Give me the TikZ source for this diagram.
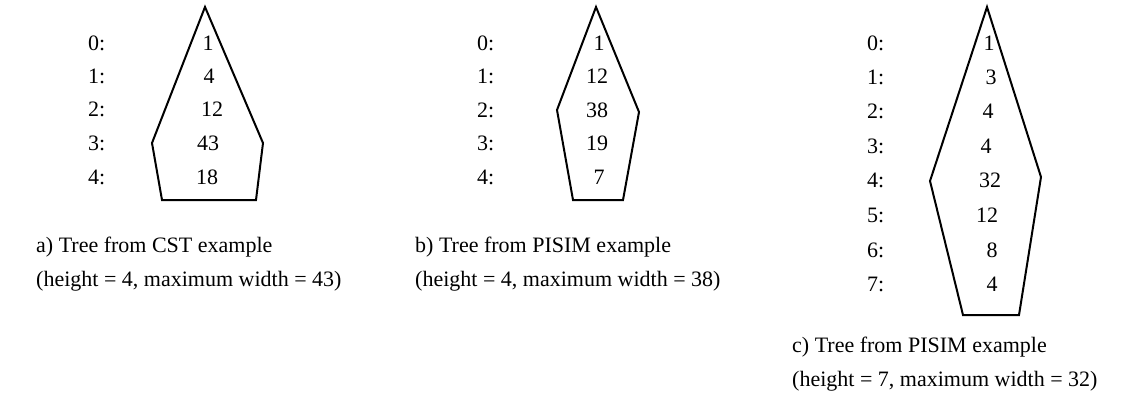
\documentclass[tikz,border=0pt]{standalone}
\usepackage{fontspec}
\setmainfont{Liberation Serif}
\usetikzlibrary{positioning}

\begin{document}
\begin{tikzpicture}[
    x=1pt, y=-1pt,
    font=\fontsize{22}{34}\selectfont,
    lvl/.style={anchor=west, inner sep=0pt},
    cnt/.style={anchor=center, inner sep=0pt},
    outline/.style={draw, line width=2pt, line join=miter},
    caption/.style={anchor=base west, inner sep=0pt}
]
    \useasboundingbox (0,0) rectangle (1121,397);

    % Tree a) CST
    \coordinate (a_top) at (205,7);
    \coordinate (a_left) at (152,143);
    \coordinate (a_right) at (263,143);
    \coordinate (a_bl) at (162,200);
    \coordinate (a_br) at (256,200);
    \draw [outline] (a_top) -- (a_right) -- (a_br) -- (a_bl) -- (a_left) -- cycle;

    \node (a_lvl0) [lvl] at (88,43) {0:};
    \node (a_lvl1) [lvl] at (88,76) {1:};
    \node (a_lvl2) [lvl] at (88,109) {2:};
    \node (a_lvl3) [lvl] at (88,143) {3:};
    \node (a_lvl4) [lvl] at (88,177) {4:};

    \node (a_w0) [cnt] at (208,43) {1};
    \node (a_w1) [cnt] at (209,76) {4};
    \node (a_w2) [cnt] at (212,109) {12};
    \node (a_w3) [cnt] at (208,143) {43};
    \node (a_w4) [cnt] at (207,177) {18};

    \node (a_cap1) [caption] at (36,252) {a) Tree from CST example};
    \node (a_cap2) [caption] at (36,286) {(height = 4, maximum width = 43)};

    % Tree b) PISIM
    \coordinate (b_top) at (596,7);
    \coordinate (b_left) at (557,110);
    \coordinate (b_right) at (639,112);
    \coordinate (b_bl) at (573,200);
    \coordinate (b_br) at (623,200);
    \draw [outline] (b_top) -- (b_right) -- (b_br) -- (b_bl) -- (b_left) -- cycle;

    \node (b_lvl0) [lvl] at (477,43) {0:};
    \node (b_lvl1) [lvl] at (477,76) {1:};
    \node (b_lvl2) [lvl] at (477,110) {2:};
    \node (b_lvl3) [lvl] at (477,143) {3:};
    \node (b_lvl4) [lvl] at (477,177) {4:};

    \node (b_w0) [cnt] at (599,43) {1};
    \node (b_w1) [cnt] at (597,76) {12};
    \node (b_w2) [cnt] at (597,110) {38};
    \node (b_w3) [cnt] at (597,143) {19};
    \node (b_w4) [cnt] at (599,177) {7};

    \node (b_cap1) [caption] at (415,252) {b) Tree from PISIM example};
    \node (b_cap2) [caption] at (415,286) {(height = 4, maximum width = 38)};

    % Tree c) PISIM
    \coordinate (c_top) at (987,7);
    \coordinate (c_left) at (930,181);
    \coordinate (c_right) at (1041,177);
    \coordinate (c_bl) at (963,315);
    \coordinate (c_br) at (1019,315);
    \draw [outline] (c_top) -- (c_right) -- (c_br) -- (c_bl) -- (c_left) -- cycle;

    \node (c_lvl0) [lvl] at (867,43) {0:};
    \node (c_lvl1) [lvl] at (867,77) {1:};
    \node (c_lvl2) [lvl] at (867,111) {2:};
    \node (c_lvl3) [lvl] at (867,146) {3:};
    \node (c_lvl4) [lvl] at (867,180) {4:};
    \node (c_lvl5) [lvl] at (867,215) {5:};
    \node (c_lvl6) [lvl] at (867,250) {6:};
    \node (c_lvl7) [lvl] at (867,284) {7:};

    \node (c_w0) [cnt] at (989,43) {1};
    \node (c_w1) [cnt] at (991,77) {3};
    \node (c_w2) [cnt] at (988,111) {4};
    \node (c_w3) [cnt] at (986,146) {4};
    \node (c_w4) [cnt] at (990,180) {32};
    \node (c_w5) [cnt] at (987,215) {12};
    \node (c_w6) [cnt] at (992,250) {8};
    \node (c_w7) [cnt] at (992,284) {4};

    \node (c_cap1) [caption] at (792,352) {c) Tree from PISIM example};
    \node (c_cap2) [caption] at (792,386) {(height = 7, maximum width = 32)};

\end{tikzpicture}
\end{document}
